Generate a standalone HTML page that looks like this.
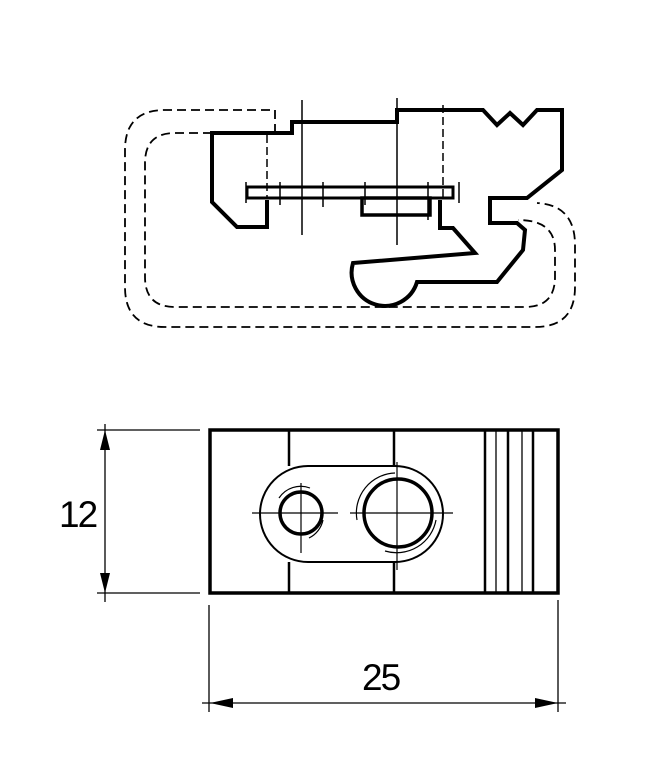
<!DOCTYPE html>
<html><head><style>html,body{margin:0;padding:0;background:#fff}svg{display:block}</style></head><body>
<svg width="660" height="768" viewBox="0 0 660 768" xmlns="http://www.w3.org/2000/svg">
<g fill="none" stroke="#000">
<g stroke-width="1.8" stroke-dasharray="9,5">
<path d="M275,133 V110 H165 Q125,110 125,150 V287 Q125,327 165,327 H535 Q575,327 575,287 V245 Q575,205 537,203"/>
<path d="M212,133 H175 Q145,133 145,163 V277 Q145,307 175,307 H525 Q555,307 555,277 V250 Q555,220 518,220"/>
</g>
<path stroke-width="4" stroke-linejoin="miter" d="M267,200 V227 H237 L212,202 V133 H292 V122 H397 V110 H483 L497,125 L510,113 L523,125 L537,110 H562 V170 L527,198 H490 V223 H517 L525,230 L523,250 L497,282 H417 A30,30 0 0 1 353,263 L475,253 L453,228 H440 V200"/>
<rect x="247" y="187" width="206" height="11" stroke-width="3"/>
<rect x="362" y="198" width="68" height="17" stroke-width="3.5"/>
<g stroke-width="1.5">
<line x1="302" y1="100" x2="302" y2="235"/>
<line x1="397" y1="98" x2="397" y2="245"/>
<line x1="280" y1="182" x2="280" y2="205"/>
<line x1="323" y1="182" x2="323" y2="207"/>
<line x1="365" y1="182" x2="365" y2="205"/>
<line x1="428" y1="182" x2="428" y2="220"/>
<line x1="246" y1="182" x2="246" y2="203"/>
<line x1="459" y1="182" x2="459" y2="203"/>
</g>
<g stroke-width="1.5" stroke-dasharray="8,4">
<line x1="267" y1="135" x2="267" y2="198"/>
<line x1="443" y1="105" x2="443" y2="198"/>
</g>
<rect x="210" y="430" width="348" height="163" stroke-width="3.5"/>
<g stroke-width="2.5">
<line x1="289" y1="430" x2="289" y2="466"/><line x1="289" y1="562" x2="289" y2="593"/>
<line x1="394" y1="430" x2="394" y2="466"/><line x1="394" y1="562" x2="394" y2="593"/>
<line x1="485" y1="430" x2="485" y2="593"/>
<line x1="508" y1="430" x2="508" y2="593"/>
<line x1="533" y1="430" x2="533" y2="593"/>
</g>
<g stroke-width="1.3">
<line x1="496" y1="430" x2="496" y2="593"/>
<line x1="522" y1="430" x2="522" y2="593"/>
</g>
<path stroke-width="2" d="M308,466 H395 A48,48 0 0 1 395,562 H308 A48,48 0 0 1 308,466 Z"/>
<circle cx="301" cy="513" r="21" stroke-width="3.5"/>
<circle cx="398" cy="513" r="34" stroke-width="3.5"/>
<path stroke-width="1.2" d="M279,498 A26,26 0 0 1 310,488 M323,520 A26,26 0 0 1 309,538"/>
<path stroke-width="1.2" d="M357,520 A40,40 0 0 1 395,473 M436,520 A40,40 0 0 1 385,551"/>
<g stroke-width="1.2">
<line x1="252" y1="513" x2="338" y2="513"/><line x1="301" y1="483" x2="301" y2="553"/>
<line x1="350" y1="513" x2="453" y2="513"/><line x1="397" y1="462" x2="397" y2="570"/>
</g>
<g stroke-width="1.3">
<line x1="97" y1="430" x2="200" y2="430"/>
<line x1="97" y1="593" x2="200" y2="593"/>
<line x1="105" y1="424" x2="105" y2="602"/>
<line x1="209" y1="605" x2="209" y2="712"/>
<line x1="558" y1="600" x2="558" y2="712"/>
<line x1="202" y1="703" x2="566" y2="703"/>
</g>
</g>
<g fill="#000">
<path d="M105,430 L100,450 L110,450 Z"/>
<path d="M105,593 L100,573 L110,573 Z"/>
<path d="M210,703 L233,698 L233,708 Z"/>
<path d="M558,703 L535,698 L535,708 Z"/>
<text x="59" y="527" font-family="Liberation Sans, sans-serif" font-size="37" letter-spacing="-2">12</text>
<text x="362" y="690" font-family="Liberation Sans, sans-serif" font-size="37" letter-spacing="-2">25</text>
</g>
</svg>
</body></html>
